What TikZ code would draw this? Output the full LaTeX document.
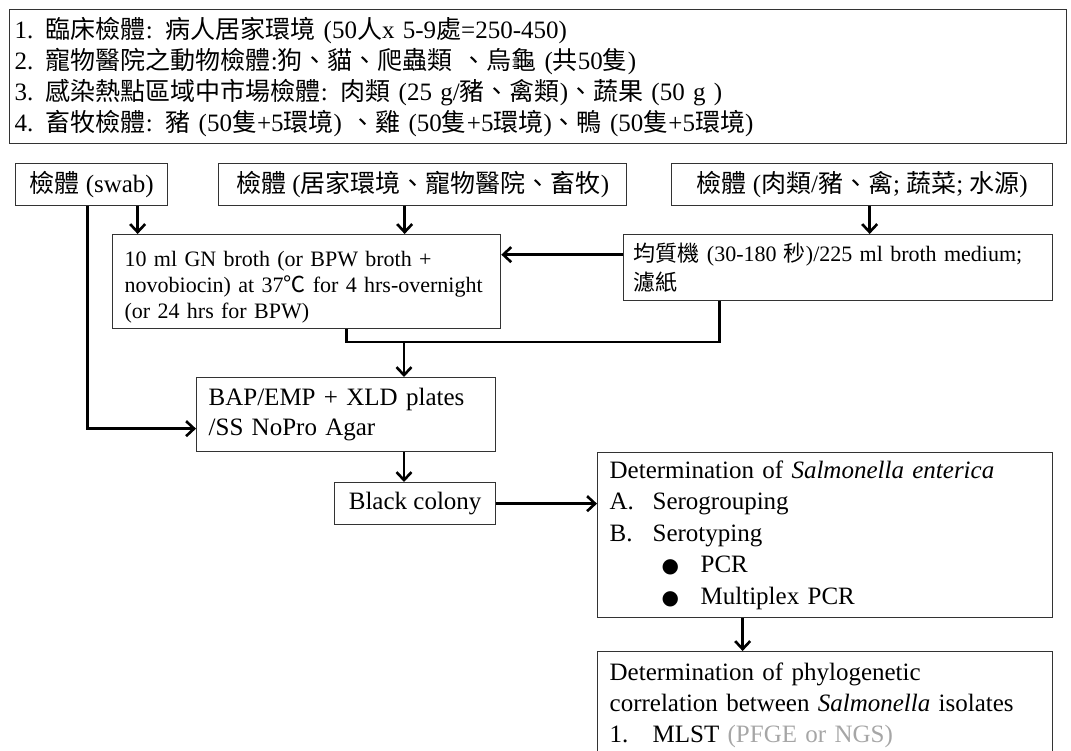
\documentclass[tikz,border=0pt]{standalone}
\usepackage{fontspec}
\setmainfont{Liberation Serif}
\newfontfamily\zh{Noto Sans CJK TC}
\newfontfamily\sym{DejaVu Sans}
\usetikzlibrary{arrows.meta}
\usetikzlibrary{calc}

\begin{document}
\begin{tikzpicture}[x=1pt,y=-1pt,>={Straight Barb[length=8pt,width=15pt]},
boxed/.style={rectangle,draw=black!80,line width=1.3pt,anchor=north west,align=left,inner ysep=2pt,
font=\fontsize{25}{31}\selectfont},
headbox/.style={rectangle,draw=black!80,line width=1.3pt,anchor=north west,minimum height=42pt,inner sep=0pt,
font=\fontsize{25}{31}\selectfont},
arrow/.style={->,line width=2.6pt},
link/.style={line width=2.6pt}]
\useasboundingbox (0,0) rectangle (1071,751);
\node[boxed,inner xsep=5pt,text width=1047pt,minimum height=134pt,font=\fontsize{25}{31}\selectfont](list) at (9,9){%
1. {\zh 臨床檢體}: {\zh 病人居家環境} (50{\zh 人}x 5-9{\zh 處}=250-450)\\
2. {\zh 寵物醫院之動物檢體}:{\zh 狗、貓、爬蟲類 、烏龜} ({\zh 共}50{\zh 隻})\\
3. {\zh 感染熱點區域中市場檢體}: {\zh 肉類} (25 g/{\zh 豬、禽類}){\zh 、蔬果} (50 g )\\
4. {\zh 畜牧檢體}: {\zh 豬} (50{\zh 隻}+5{\zh 環境}) {\zh 、雞} (50{\zh 隻}+5{\zh 環境}){\zh 、鴨} (50{\zh 隻}+5{\zh 環境})};
\node[headbox,minimum width=152pt](swab) at (15,163){{\zh 檢體} (swab)};
\node[headbox,minimum width=408pt](home) at (218,163){{\zh 檢體} ({\zh 居家環境、寵物醫院、畜牧})};
\node[headbox,minimum width=381pt](meat) at (671,163){{\zh 檢體} ({\zh 肉類}/{\zh 豬、禽}; {\zh 蔬菜}; {\zh 水源})};
\node[boxed,inner xsep=12pt,text width=364pt,minimum height=94pt,font=\fontsize{22}{26}\selectfont](broth) at (112,234){%
\rule{0pt}{26pt}10 ml GN broth (or BPW broth +\\
novobiocin) at 37{\zh ℃} for 4 hrs-overnight\\
(or 24 hrs for BPW)};
\node[boxed,inner xsep=10pt,text width=409pt,minimum height=66pt,font=\fontsize{22}{29}\selectfont](homog) at (623,234){%
{\zh 均質機} (30-180 {\zh 秒})/225 ml broth medium;\\
{\zh 濾紙}};
\node[boxed,inner xsep=12pt,text width=275pt,minimum height=74pt,font=\fontsize{25}{30}\selectfont](plates) at (196,377){%
BAP/EMP + XLD plates\\
/SS NoPro Agar};
\node[headbox,minimum width=161pt](colony) at (334,482){Black colony};
\node[boxed,inner xsep=12pt,text width=431pt,minimum height=165pt,font=\fontsize{25}{31.5}\selectfont](serotype) at (597,452){%
Determination of \textit{Salmonella enterica}\\
\makebox[43pt][l]{A.}Serogrouping\\
\makebox[43pt][l]{B.}Serotyping\\
\hspace*{52pt}\makebox[39pt][l]{\sym\fontsize{20}{31}\selectfont ●}PCR\\
\hspace*{52pt}\makebox[39pt][l]{\sym\fontsize{20}{31}\selectfont ●}Multiplex PCR};
\node[boxed,inner xsep=12pt,inner ysep=11pt,text width=431pt](phylo) at (597,651){%
Determination of phylogenetic\\
correlation between \textit{Salmonella} isolates\\
\makebox[43pt][l]{1.}MLST {\color{black!35}(PFGE or NGS)}\\[30pt]\mbox{}};
\coordinate (s0) at ([xshift=-4pt]swab.south);
\coordinate (s1) at ([xshift=46pt]swab.south);
\coordinate (h1) at ([xshift=-18pt]home.south);
\coordinate (m1) at ([xshift=7.5pt]meat.south);
\coordinate (g0) at ([yshift=13pt]homog.west);
\coordinate (g1) at ([xshift=-118.5pt]homog.south);
\coordinate (b1) at ([xshift=40pt]broth.south);
\coordinate (knoten) at (404,342);
\coordinate (p0) at ([yshift=-14pt]plates.west);
\coordinate (d1) at ([xshift=-82.5pt]serotype.south);
\draw[arrow] (s1)--(s1 |- broth.north);
\draw[arrow] (s0)|-(p0);
\draw[arrow] (h1)--(h1 |- broth.north);
\draw[arrow] (m1)--(m1 |- homog.north);
\draw[arrow] (g0)--(g0 -| broth.east);
\draw[link] (b1)|-(knoten)-|(g1);
\draw[arrow] (knoten)--(knoten |- plates.north);
\draw[arrow] (knoten |- plates.south)--(knoten |- colony.north);
\draw[arrow] (colony.east)--(colony.east -| serotype.west);
\draw[arrow] (d1)--(d1 |- phylo.north);
\end{tikzpicture}
\end{document}
